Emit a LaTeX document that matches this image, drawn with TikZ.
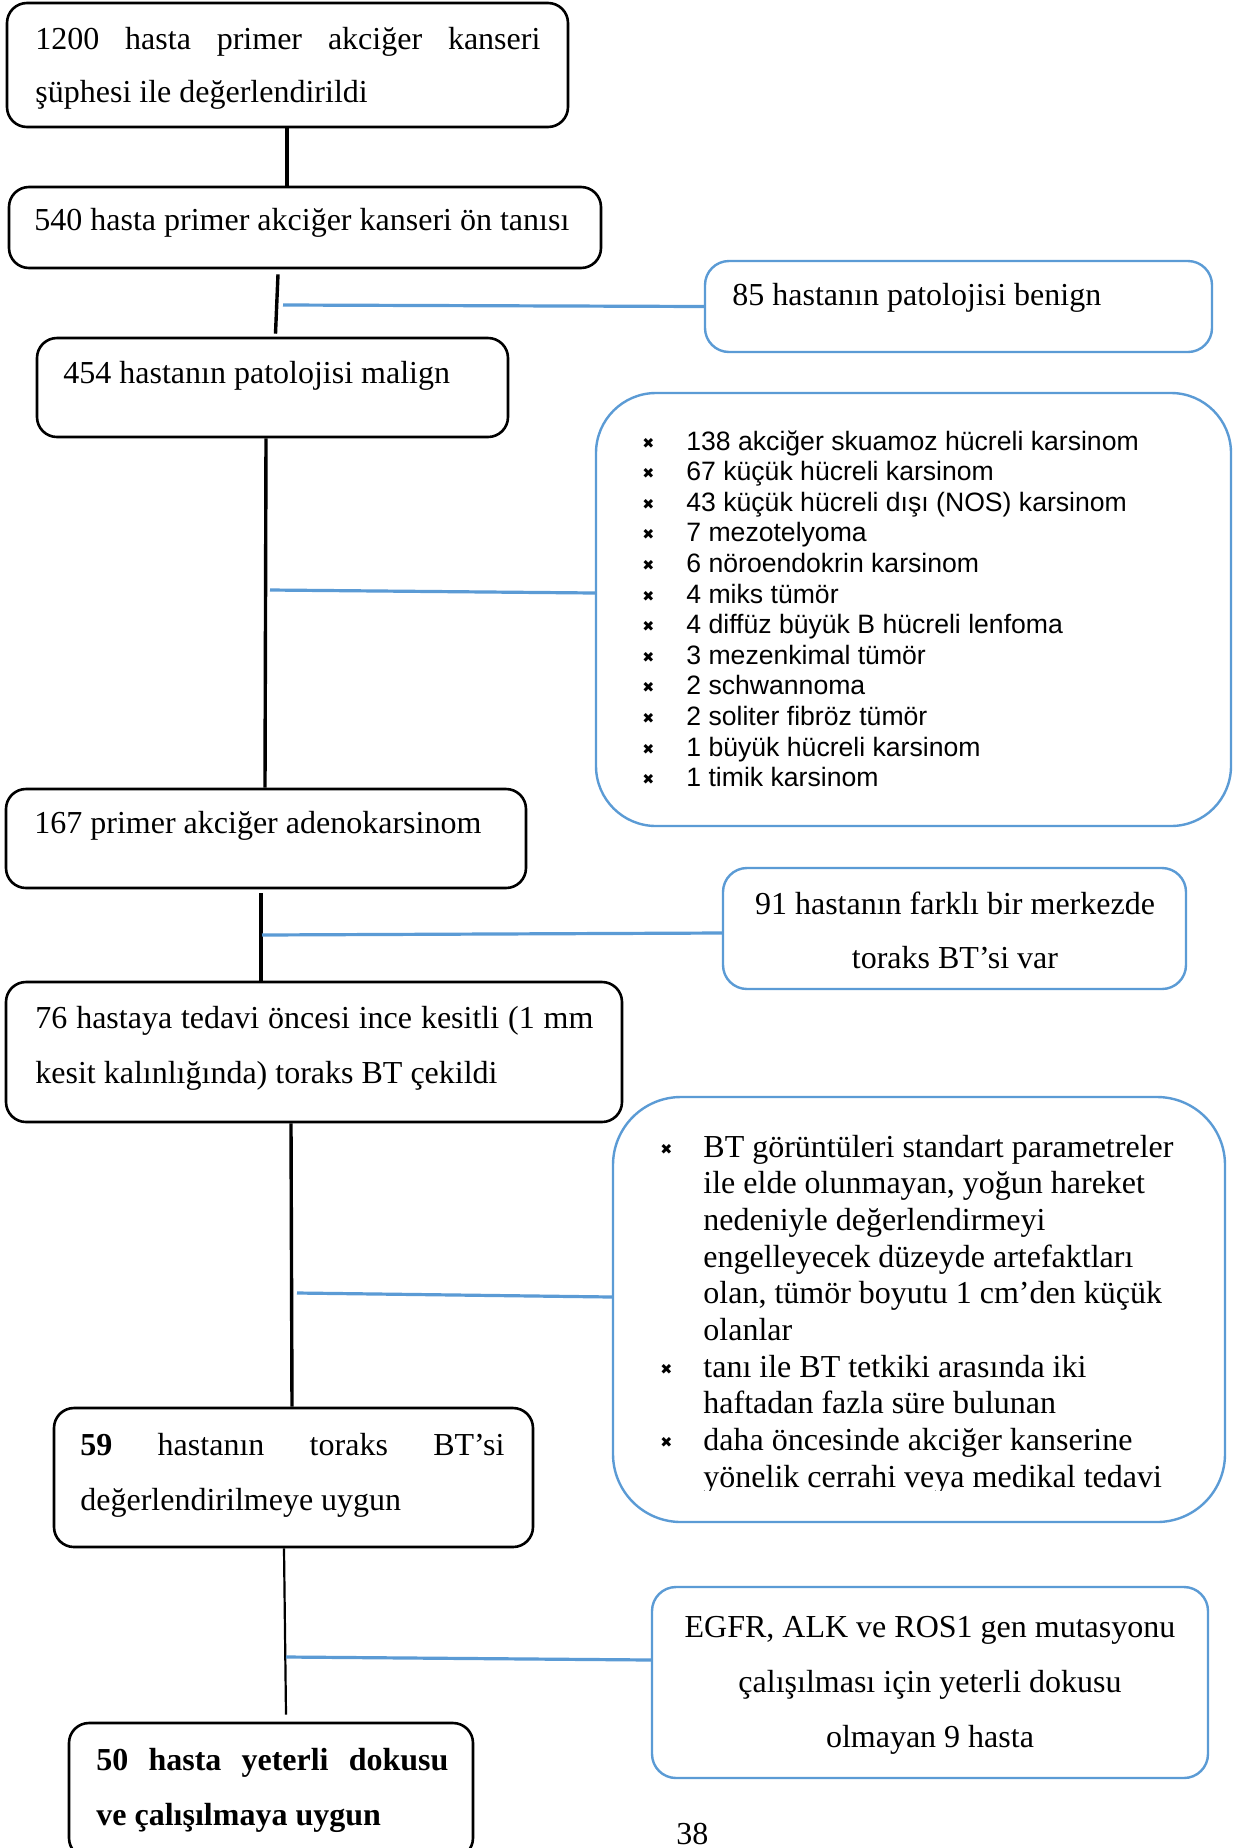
\documentclass[tikz,border=0pt]{standalone}
\usepackage{fontspec}
\setmainfont{Liberation Serif}
\newfontfamily\arialf{Liberation Sans}
\newfontfamily\dejavuf{DejaVu Sans}
\usetikzlibrary{fit}
\definecolor{obl}{HTML}{5B9BD5}
\begin{document}
\begin{tikzpicture}[x=0.5pt,y=-0.5pt,
 bk/.style={draw=black, line width=1.3pt, rounded corners=10pt, inner sep=0pt},
 bl/.style={draw=obl, line width=1.2pt, rounded corners=12pt, inner sep=0pt},
 conn/.style={draw=black, line width=1.7pt},
 thinconn/.style={draw=black, line width=1.1pt},
 side/.style={draw=obl, line width=1.6pt},
 tx/.style={inner sep=0pt, font=\fontsize{16}{19}\selectfont},
 sx/.style={inner sep=0pt, font=\arialf\fontsize{13.3}{15.3}\selectfont},
 bul/.style={inner sep=0pt, font=\dejavuf\fontsize{7.2}{8}\selectfont},
]
\useasboundingbox (0,0) rectangle (1236,1848);
\clip (0,0) rectangle (1236,1848);
\fill[white] (0,0) rectangle (1236,1848);

% ---- boxes ----
\node[bk, fit={(7,3) (568,127)}] (b1) {};
\node[bk, fit={(9,187) (601,268)}] (b2) {};
\node[bl, fit={(705,261) (1212,352)}] (benign) {};
\node[bk, fit={(37,338) (508,437)}] (b3) {};
\node[bl, rounded corners=30pt, fit={(596,393) (1231,826)}] (list1) {};
\node[bk, fit={(6,789) (526,888)}] (b4) {};
\node[bl, fit={(723,868) (1186,989)}] (farkli) {};
\node[bk, fit={(6,982) (622,1122)}] (b5) {};
\node[bl, rounded corners=34pt, fit={(613,1097) (1225,1522)}] (list2) {};
\node[bk, fit={(54,1408) (533,1547)}] (b6) {};
\node[bl, fit={(652,1587) (1208,1778)}] (egfr) {};
\node[bk, fit={(69,1723) (473,1858)}] (b7) {};

% ---- connector x positions / junctions ----
\coordinate (x1) at (287,0);
\coordinate (x2a) at (278,0);
\coordinate (x2b) at (275.5,0);
\coordinate (x3a) at (266,0);
\coordinate (x3b) at (265,0);
\coordinate (x4) at (261,0);
\coordinate (x5a) at (291,0);
\coordinate (x5b) at (292,0);
\coordinate (x6a) at (284,0);
\coordinate (x6b) at (286,0);
\coordinate (j1) at (283,305);
\coordinate (j2) at (270,590);
\coordinate (j3) at (262,935);
\coordinate (j4) at (297,1293);
\coordinate (j5) at (286,1657);

% ---- vertical connectors ----
\draw[conn] (b1.south -| x1) -- (b2.north -| x1);
\draw[conn] ([yshift=-2.5pt]b2.south -| x2a) -- ([yshift=1.5pt]b3.north -| x2b);
\draw[conn] (b3.south -| x3a) -- (b4.north -| x3b);
\draw[conn] ([yshift=-2pt]b4.south -| x4) -- (b5.north -| x4);
\draw[conn] (b5.south -| x5a) -- (b6.north -| x5b);
\draw[thinconn] (b6.south -| x6a) -- ([yshift=3.5pt]b7.north -| x6b);

% ---- side connectors ----
\draw[side] (j1) -- (benign.west);
\draw[side] (j2) -- ([yshift=8.25pt]list1.west);
\draw[side] (j3) -- ([yshift=-2.25pt]farkli.west);
\draw[side] (j4) -- ([yshift=6.25pt]list2.west);
\draw[side] (j5) -- ([yshift=11.25pt]egfr.west);

% ---- texts ----
\node[tx, anchor=base west] (t1a) at (35,49) {\makebox[252.5pt][s]{1200 hasta primer akciğer kanseri}};
\node[tx, anchor=base west] (t1b) at (35,102) {şüphesi ile değerlendirildi};
\node[tx, anchor=base west] (t2) at (34,230) {540 hasta primer akciğer kanseri ön tanısı};
\node[tx, anchor=base west] (t3) at (63,383) {454 hastanın patolojisi malign};
\node[tx, anchor=base west] (tb) at (732,305) {85 hastanın patolojisi benign};
\node[tx, anchor=base west] (t4) at (34,833) {167 primer akciğer adenokarsinom};
\node[tx, anchor=base] (tf1) at (955,914) {91 hastanın farklı bir merkezde};
\node[tx, anchor=base] (tf2) at (955,968) {toraks BT’si var};
\node[tx, anchor=base west] (t5a) at (35,1028) {\makebox[279pt][s]{76 hastaya tedavi öncesi ince kesitli (1 mm}};
\node[tx, anchor=base west] (t5b) at (35,1083) {kesit kalınlığında) toraks BT çekildi};
\node[tx, anchor=base west] (t6a) at (80,1455) {\makebox[212pt][s]{\textbf{59} hastanın toraks BT’si}};
\node[tx, anchor=base west] (t6b) at (80,1510) {değerlendirilmeye uygun};
\node[tx, anchor=base] (te1) at (930,1637) {EGFR, ALK ve ROS1 gen mutasyonu};
\node[tx, anchor=base] (te2) at (930,1692) {çalışılması için yeterli dokusu};
\node[tx, anchor=base] (te3) at (930,1747) {olmayan 9 hasta};
\node[tx, anchor=base west] (t7a) at (96,1770) {\makebox[176pt][s]{\bfseries 50 hasta yeterli dokusu}};
\node[tx, anchor=base west] (t7b) at (96,1825) {\bfseries ve çalışılmaya uygun};
\node[tx, anchor=base west] (pg) at (676,1844) {38};

% ---- list 1 ----
\foreach \t [count=\i from 0] in {138 akciğer skuamoz hücreli karsinom,
  67 küçük hücreli karsinom,
  43 küçük hücreli dışı (NOS) karsinom,
  7 mezotelyoma,
  6 nöroendokrin karsinom,
  4 miks tümör,
  4 diffüz büyük B hücreli lenfoma,
  3 mezenkimal tümör,
  2 schwannoma,
  2 soliter fibröz tümör,
  1 büyük hücreli karsinom,
  1 timik karsinom}{
  \node[sx, anchor=base west] (la\i) at ({686},{450+30.6*\i}) {\t};
  \node[bul, anchor=base west] (lb\i) at ({642},{448+30.6*\i}) {✖};
}

% ---- list 2 ----
\begin{scope}
\clip (613,1097) rectangle (1225,1490);
\foreach \t [count=\i from 0] in {BT görüntüleri standart parametreler,
  {ile elde olunmayan, yoğun hareket},
  nedeniyle değerlendirmeyi,
  engelleyecek düzeyde artefaktları,
  {olan, tümör boyutu 1 cm’den küçük},
  olanlar,
  tanı ile BT tetkiki arasında iki,
  haftadan fazla süre bulunan,
  daha öncesinde akciğer kanserine,
  yönelik cerrahi veya medikal tedavi}{
  \node[tx, anchor=base west] (m\i) at ({703},{1157+36.7*\i}) {\t};
}
\foreach \i in {0,6,8}{
  \node[bul, anchor=base west] (mb\i) at ({660},{1154+36.7*\i}) {✖};
}
\end{scope}
\end{tikzpicture}
\end{document}
